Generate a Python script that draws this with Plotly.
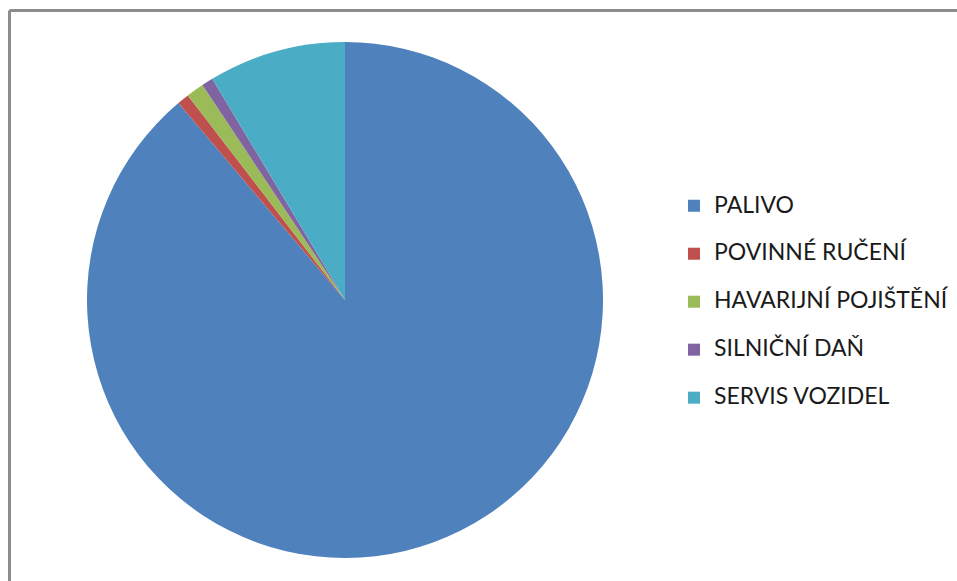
import plotly.graph_objects as go

categories = ["PALIVO", "POVINNÉ RUČENÍ", "HAVARIJNÍ POJIŠTĚNÍ", "SILNIČNÍ DAŇ", "SERVIS VOZIDEL"]
values = [88.8, 0.75, 1.1, 0.72, 8.6]
colors = ["#4F81BD", "#C0504D", "#9BBB59", "#8064A2", "#4BACC6"]

W, H = 957, 581
cx, cy, r = 345, 300, 258

# legend labels: larger visible text, with an empty second line to widen entry spacing
legend_labels = ['<span style="font-size:23px">%s</span><br> ' % c for c in categories]

fig = go.Figure(go.Pie(
    labels=legend_labels,
    values=values,
    sort=False,
    direction="clockwise",
    rotation=0,
    marker=dict(colors=colors, line=dict(width=0)),
    textinfo="none",
    customdata=categories,
    hovertemplate="%{customdata}: %{percent}<extra></extra>",
    domain=dict(x=[(cx - r) / W, (cx + r) / W], y=[(H - cy - r) / H, (H - cy + r) / H]),
))

fig.update_layout(
    width=W, height=H,
    margin=dict(l=0, r=0, t=0, b=0),
    paper_bgcolor="white",
    plot_bgcolor="white",
    font=dict(family="Lato, Open Sans, sans-serif", color="#1a1a1a"),
    legend=dict(
        x=674 / W, y=(H - 188) / H, xanchor="left", yanchor="top",
        font=dict(size=17.3, family="Lato, sans-serif", color="#1a1a1a"),
        valign="top",
        bgcolor="rgba(0,0,0,0)",
    ),
    showlegend=True,
    shapes=[
        dict(type="line", xref="paper", yref="paper", x0=9.5 / W, x1=1.01, y0=(H - 10.5) / H, y1=(H - 10.5) / H,
             line=dict(color="#8c8c8c", width=3)),
        dict(type="line", xref="paper", yref="paper", x0=9.5 / W, x1=9.5 / W, y0=-0.01, y1=(H - 10.5) / H,
             line=dict(color="#8c8c8c", width=3)),
    ],
)

fig.write_html("out.html")
